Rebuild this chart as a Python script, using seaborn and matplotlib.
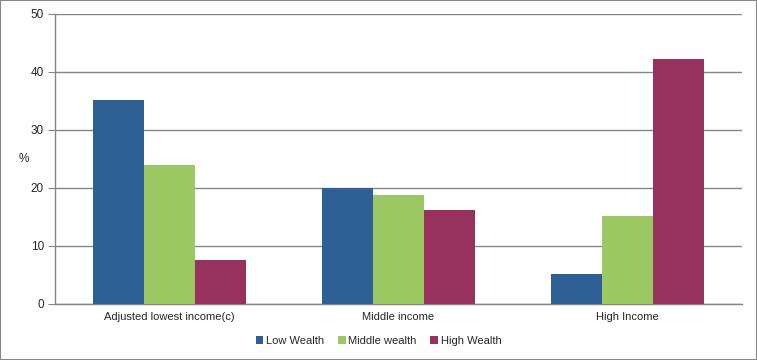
import matplotlib
matplotlib.use("Agg")
import matplotlib.pyplot as plt
import seaborn as sns
import pandas as pd
from matplotlib.patches import Rectangle

categories = ["Adjusted lowest income(c)", "Middle income", "High Income"]
series = ["Low Wealth", "Middle wealth", "High Wealth"]
low_wealth = [35.2, 20.0, 5.2]
middle_wealth = [24.0, 18.8, 15.2]
high_wealth = [7.6, 16.2, 42.3]
colors = ["#2E6096", "#9BC862", "#97315E"]

df = pd.DataFrame({
    "category": categories * 3,
    "series": [s for s in series for _ in categories],
    "value": low_wealth + middle_wealth + high_wealth,
})

sns.set_style("white")
plt.rcParams["font.family"] = ["Liberation Sans", "DejaVu Sans"]

fig = plt.figure(figsize=(7.57, 3.6), dpi=100)
ax = fig.add_axes([55 / 757, 56 / 360, 687 / 757, 290 / 360])

sns.barplot(data=df, x="category", y="value", hue="series", palette=colors,
            width=0.67, saturation=1, linewidth=0, ax=ax, zorder=3)

ax.set_ylim(0, 50)
ax.set_xlim(-0.5, 2.5)
ax.set_yticks(range(0, 51, 10))
ax.yaxis.grid(True, color="#868686", linewidth=1, zorder=0)
ax.set_axisbelow(True)
for side in ["top", "right"]:
    ax.spines[side].set_visible(False)
for side in ["left", "bottom"]:
    ax.spines[side].set_color("#868686")
    ax.spines[side].set_linewidth(1)

ax.set_xticks(range(3))
ax.set_xticklabels(categories, fontsize=8)
ax.tick_params(axis="x", length=0, pad=6)
ax.set_xticks([-0.5, 0.5, 1.5, 2.5], minor=True)
ax.tick_params(axis="x", which="minor", length=5, color="#868686", direction="out")
ax.tick_params(axis="y", length=5, color="#868686", direction="out", labelsize=8.5, pad=3,
               left=True)

ax.set_xlabel("")
ax.set_ylabel("%", rotation=0, fontsize=8.5, va="center", ha="center")
ax.yaxis.set_label_coords(-0.045, 0.5)

handles, labels = ax.get_legend_handles_labels()
ax.get_legend().remove()
fig.legend(handles, labels, loc="center", bbox_to_anchor=(0.5, 19 / 360), ncol=3,
           frameon=False, fontsize=8, handlelength=0.7, handleheight=0.7,
           handletextpad=0.25, columnspacing=1.2)

fig.patches.append(Rectangle((0, 0), 1, 1, transform=fig.transFigure, fill=False,
                             edgecolor="#868686", linewidth=1.5))

fig.savefig("out.png", dpi=100)
